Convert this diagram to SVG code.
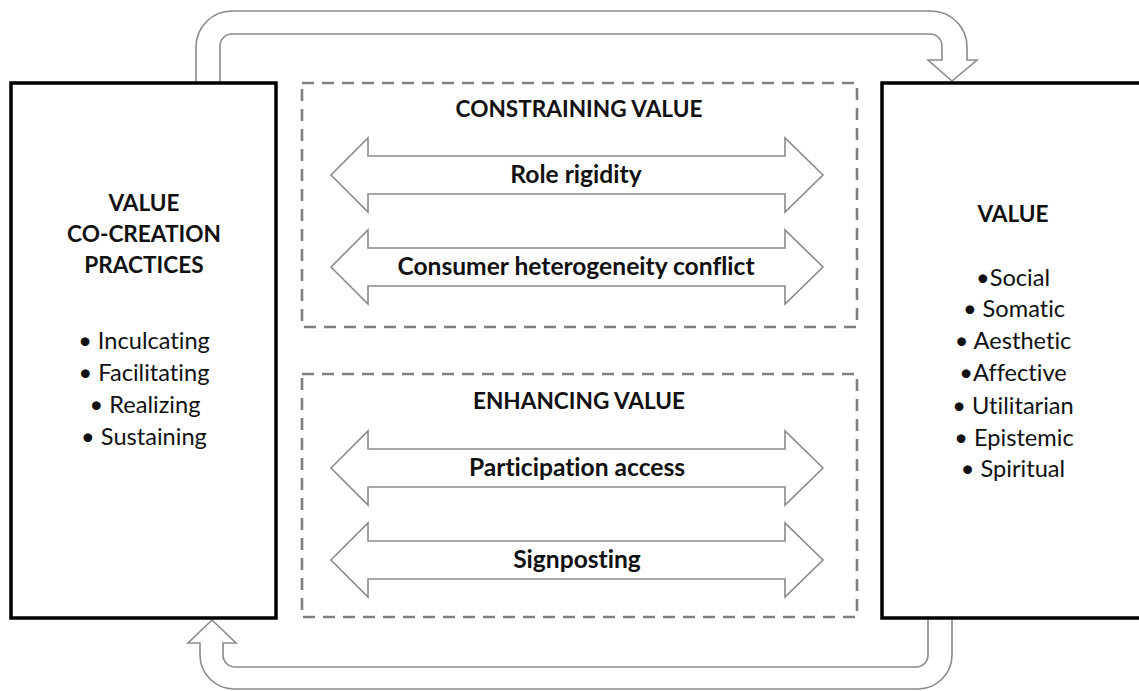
<svg xmlns="http://www.w3.org/2000/svg" width="1139" height="691" viewBox="0 0 1139 691">
<style>
.box{fill:#fff;stroke:#000;stroke-width:3.5}
.dash{fill:none;stroke:#7f7f7f;stroke-width:2.6;stroke-dasharray:12 8}
.conn{fill:#fff;stroke:#8a8a8a;stroke-width:1.6;stroke-linejoin:miter}
.dbl{fill:#fff;stroke:#8a8a8a;stroke-width:1.6}
text{font-variant-ligatures:none}
.h{font-family:Lato,"Liberation Sans",sans-serif;font-weight:bold;font-size:22.6px;fill:#111;text-anchor:middle}
.l{font-family:Lato,"Liberation Sans",sans-serif;font-weight:bold;font-size:24.6px;fill:#111;text-anchor:middle}
.t{font-family:Lato,"Liberation Sans",sans-serif;font-size:23.6px;fill:#111;text-anchor:middle}
</style>
<rect width="1139" height="691" fill="#fff"/>
<g id="connectors">
<path class="conn" d="M196 82 L196 47 A36 36 0 0 1 232 11 L931 11 A36 36 0 0 1 967 47 L967 60 L977 60 L952 81 L928 60 L942 60 L942 46 A12 12 0 0 0 930 34 L232 34 A12 12 0 0 0 220 46 L220 82"/>
<path class="conn" d="M928 618 L928 655 A12 12 0 0 1 916 667 L235 667 A12 12 0 0 1 223 655 L223 643 L236 643 L212 620 L188 643 L200 643 L200 655 A34 34 0 0 0 234 689 L918 689 A34 34 0 0 0 952 655 L952 618"/>
</g>
<g id="practices">
<rect class="box" x="11" y="83" width="265" height="535"/>
<text class="h" x="144" y="211">VALUE</text>
<text class="h" x="144" y="242">CO-CREATION</text>
<text class="h" x="144" y="273">PRACTICES</text>
<text class="t" x="144" y="349">• Inculcating</text>
<text class="t" x="144" y="381">• Facilitating</text>
<text class="t" x="145" y="413">• Realizing</text>
<text class="t" x="144" y="445">• Sustaining</text>
</g>
<g id="value">
<rect class="box" x="882" y="83" width="270" height="535"/>
<text class="h" x="1013" y="222">VALUE</text>
<text class="t" x="1013" y="286">•Social</text>
<text class="t" x="1014" y="317">• Somatic</text>
<text class="t" x="1013" y="349">• Aesthetic</text>
<text class="t" x="1013" y="381">•Affective</text>
<text class="t" x="1013" y="414">• Utilitarian</text>
<text class="t" x="1014" y="446">• Epistemic</text>
<text class="t" x="1013" y="477">• Spiritual</text>
</g>
<g id="constraining">
<rect class="dash" x="302" y="83" width="555" height="244"/>
<text class="h" x="579" y="117">CONSTRAINING VALUE</text>
</g>
<g id="role-rigidity">
<polygon class="dbl" points="331,175 368,138 368,156 785,156 785,138 823,175 785,212 785,194 368,194 368,212"/>
<text class="l" x="576" y="183">Role rigidity</text>
</g>
<g id="consumer-heterogeneity">
<polygon class="dbl" points="331,267 368,230 368,248 785,248 785,230 823,267 785,304 785,286 368,286 368,304"/>
<text class="l" x="576" y="275">Consumer heterogeneity conflict</text>
</g>
<g id="enhancing">
<rect class="dash" x="302" y="374" width="555" height="243"/>
<text class="h" x="579" y="409">ENHANCING VALUE</text>
</g>
<g id="participation-access">
<polygon class="dbl" points="331,468 368,431 368,449 785,449 785,431 823,468 785,505 785,487 368,487 368,505"/>
<text class="l" x="577" y="476">Participation access</text>
</g>
<g id="signposting">
<polygon class="dbl" points="331,560 368,523 368,541 785,541 785,523 823,560 785,597 785,579 368,579 368,597"/>
<text class="l" x="577" y="568">Signposting</text>
</g>
</svg>
